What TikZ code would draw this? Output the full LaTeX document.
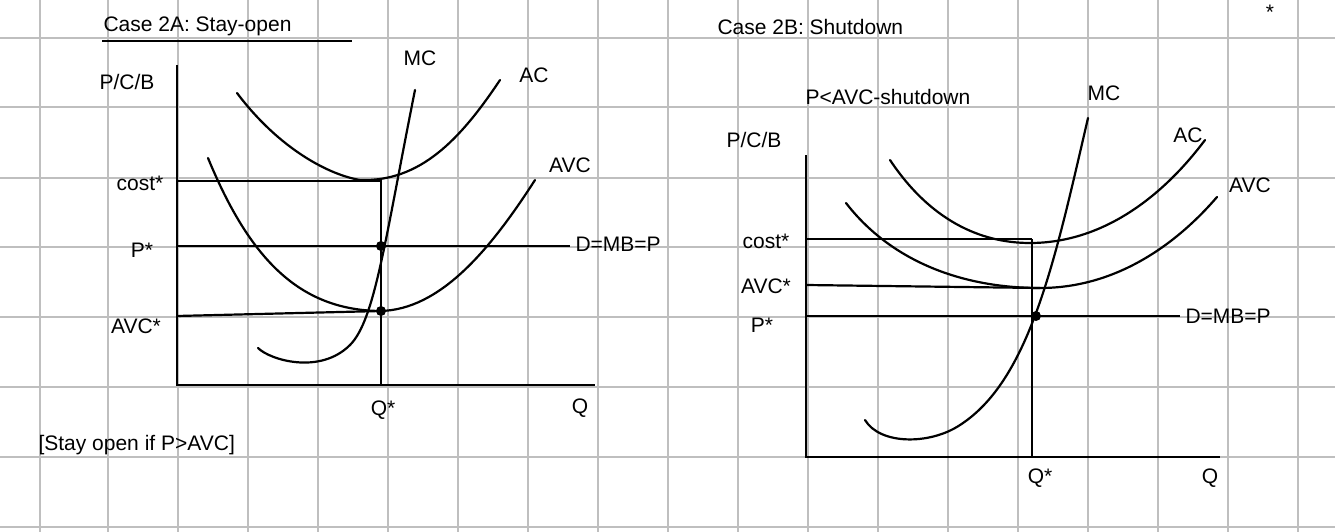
\documentclass[tikz,border=0pt]{standalone}
\usepackage{fontspec}
\setmainfont{Liberation Sans}
\begin{document}
\begin{tikzpicture}[x=1pt,y=-1pt,
  crv/.style={line width=2.2pt,line cap=round},
  ax/.style={line width=2.2pt},
  lbl/.style={font=\fontsize{21}{23}\selectfont},
  dotn/.style={circle,fill=black,inner sep=0pt,minimum size=10pt}]
\fill[white] (0,0) rectangle (1335,532);
\useasboundingbox (0,0) rectangle (1335,532);
\foreach \x in {40,108,178,248,318,388,458,528,598,668,738,808,878,948,1018,1088,1158,1228,1298}
  \draw[black!25,line width=1.5pt] (\x,0) -- (\x,532);
\foreach \y in {38,107,178,247,317,387,457,527}
  \draw[black!25,line width=1.5pt] (0,\y) -- (1335,\y);
% ---- left graph
\draw[ax] (177,65) -- (177,385) -- (595,385);
\draw[ax] (177,181) -- (381,181) -- (381,385);
\draw[ax] (177,246) -- (570,246);
\draw[ax] (177,316) -- (381,311);
\node[dotn] (l1) at (381,246) {};
\node[dotn] (l2) at (381,311) {};
\draw[crv] (237,93) .. controls (280,150) and (330,175) .. (360,180) .. controls (420,182) and (460,140) .. (500,80);
\draw[crv] (208,158) .. controls (250,260) and (300,310) .. (380,311) .. controls (440,310) and (490,250) .. (535,180);
\draw[crv] (258,348) .. controls (270,360) and (320,375) .. (350,345) .. controls (375,320) and (385,240) .. (415,90);
\node[lbl,anchor=west] at (100,26) {Case 2A: Stay-open};
\draw[line width=1.6pt] (102,41) -- (352,41);
\node[lbl] at (420,58) {MC};
\node[lbl] at (534,75) {AC};
\node[lbl] at (570,165) {AVC};
\node[lbl] at (127,82) {P/C/B};
\node[lbl] at (140,183) {cost*};
\node[lbl] at (142,250) {P*};
\node[lbl] at (136,326) {AVC*};
\node[lbl,anchor=west] at (572,244) {D=MB=P};
\node[lbl] at (383,410) {Q*};
\node[lbl] at (580,408) {Q};
\node[lbl,anchor=west] at (35,445) {[Stay open if P>AVC]};
% ---- right graph
\draw[ax] (806,155) -- (806,457) -- (1220,457);
\draw[ax] (806,239) -- (1032,239);
\draw[ax] (1032,239) -- (1032,457);
\draw[ax] (806,285) -- (1040,288);
\draw[ax] (806,316) -- (1180,316);
\node[dotn] (r1) at (1036,316) {};
\draw[crv] (890,160) .. controls (930,220) and (980,243) .. (1030,243) .. controls (1100,243) and (1160,200) .. (1205,140);
\draw[crv] (846,203) .. controls (890,260) and (960,288) .. (1040,288) .. controls (1120,288) and (1180,240) .. (1217,197);
\draw[crv] (865,420) .. controls (880,445) and (930,445) .. (960,425) .. controls (1030,380) and (1055,260) .. (1088,118);
\node[lbl,anchor=west] at (714,27) {Case 2B: Shutdown};
\node[lbl,anchor=west] at (802,97) {P<AVC-shutdown};
\node[lbl] at (1104,93) {MC};
\node[lbl] at (754,140) {P/C/B};
\node[lbl] at (1188,135) {AC};
\node[lbl] at (1250,185) {AVC};
\node[lbl] at (766,241) {cost*};
\node[lbl] at (766,286) {AVC*};
\node[lbl] at (762,325) {P*};
\node[lbl,anchor=west] at (1182,316) {D=MB=P};
\node[lbl] at (1040,478) {Q*};
\node[lbl] at (1210,478) {Q};
\node[lbl] at (1270,12) {*};
\end{tikzpicture}
\end{document}
